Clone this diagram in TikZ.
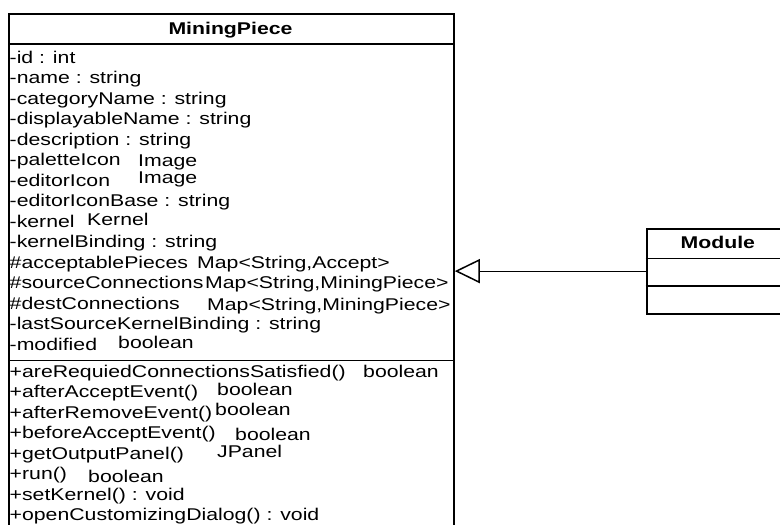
\documentclass[tikz,border=0pt]{standalone}
\usepackage{fontspec}
\setmainfont[FakeStretch=1.25]{Liberation Sans}
\usetikzlibrary{arrows.meta}
\newcommand{\umlfont}{\fontsize{17}{20}\selectfont}
\tikzset{
  classbox/.style={draw=black, line width=1.8pt, fill=white, rectangle, inner sep=0pt, anchor=north west},
  sepline/.style={draw=black, line width=1.6pt},
  member/.style={anchor=base west, inner sep=0pt, font=\umlfont},
  title/.style={anchor=base, inner sep=0pt, font=\umlfont\bfseries},
  inherit/.style={draw=black, line width=1pt, -{Triangle[open, length=25pt, width=24pt, line width=1.5pt]}}
}
\begin{document}
\begin{tikzpicture}[x=1pt, y=-1pt]
\useasboundingbox[fill=white] (0,0) rectangle (780,525);

% MiningPiece class
\node[classbox, minimum width=445pt, minimum height=517pt] (mp) at (8,13) {};
\draw[sepline] (mp.west |- 0,44) -- (mp.east |- 0,44);
\draw[sepline] (mp.west |- 0,360.5) -- (mp.east |- 0,360.5);
\node[title] (mpt) at (230.5,34.5) {MiningPiece};

% attributes
\node[member] (a1) at (9.5,63) {-id : int};
\node[member] (a2) at (9.5,83.5) {-name : string};
\node[member] (a3) at (9.5,104) {-categoryName : string};
\node[member] (a4) at (9.5,124.5) {-displayableName : string};
\node[member] (a5) at (9.5,145) {-description : string};
\node[member] (a6) at (9.5,165.5) {-paletteIcon};
\node[member] (a6v) at (138,166) {Image};
\node[member] (a7) at (9.5,186) {-editorIcon};
\node[member] (a7v) at (138,183) {Image};
\node[member] (a8) at (9.5,206.5) {-editorIconBase : string};
\node[member] (a9) at (9.5,227) {-kernel};
\node[member] (a9v) at (87,225) {Kernel};
\node[member] (a10) at (9.5,247.5) {-kernelBinding : string};
\node[member] (a11) at (9.5,268) {\#acceptablePieces};
\node[member] (a11v) at (197,268) {Map<String,Accept>};
\node[member] (a12) at (9.5,288.5) {\#sourceConnections};
\node[member] (a12v) at (205,288) {Map<String,MiningPiece>};
\node[member] (a13) at (9.5,309) {\#destConnections};
\node[member] (a13v) at (207,310) {Map<String,MiningPiece>};
\node[member] (a14) at (9.5,329.5) {-lastSourceKernelBinding : string};
\node[member] (a15) at (9.5,350) {-modified};
\node[member] (a15v) at (118,348) {boolean};

% methods
\node[member] (m1) at (9.5,377) {+areRequiedConnectionsSatisfied()};
\node[member] (m1v) at (363,377) {boolean};
\node[member] (m2) at (9.5,397.5) {+afterAcceptEvent()};
\node[member] (m2v) at (217,395) {boolean};
\node[member] (m3) at (9.5,418) {+afterRemoveEvent()};
\node[member] (m3v) at (215,415) {boolean};
\node[member] (m4) at (9.5,438.5) {+beforeAcceptEvent()};
\node[member] (m4v) at (235,440) {boolean};
\node[member] (m5) at (9.5,459) {+getOutputPanel()};
\node[member] (m5v) at (217,457) {JPanel};
\node[member] (m6) at (9.5,479.5) {+run()};
\node[member] (m6v) at (88,482) {boolean};
\node[member] (m7) at (9.5,500) {+setKernel() : void};
\node[member] (m8) at (9.5,520.5) {+openCustomizingDialog() : void};

% Module class
\node[classbox, minimum width=144pt, minimum height=85pt] (mod) at (645.7,227.7) {};
\draw[sepline] (mod.west |- 0,258.3) -- (mod.east |- 0,258.3);
\draw[sepline] (mod.west |- 0,285.7) -- (mod.east |- 0,285.7);
\node[title] (modt) at (717.8,248.5) {Module};

% generalization
\draw[inherit] (mod.west) -- (mod.west -| mp.east);
\end{tikzpicture}
\end{document}
